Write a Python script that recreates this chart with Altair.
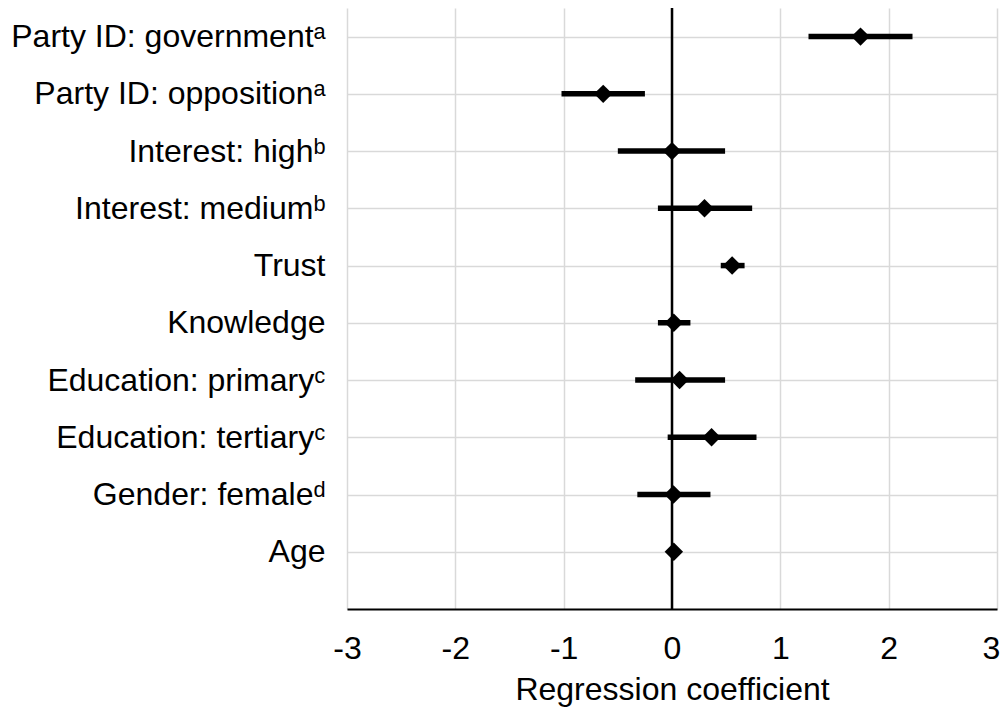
import json
import altair as alt
import pandas as pd

labels = [
    "Party ID: governmentᵃ",
    "Party ID: oppositionᵃ",
    "Interest: highᵇ",
    "Interest: mediumᵇ",
    "Trust",
    "Knowledge",
    "Education: primaryᶜ",
    "Education: tertiaryᶜ",
    "Gender: femaleᵈ",
    "Age",
]
coef = [1.74, -0.635, 0.0, 0.30, 0.555, 0.017, 0.07, 0.365, 0.014, 0.017]
lower = [1.26, -1.02, -0.50, -0.13, 0.45, -0.13, -0.34, -0.04, -0.32, 0.005]
upper = [2.22, -0.25, 0.49, 0.74, 0.67, 0.17, 0.49, 0.78, 0.355, 0.03]
x_ticks = [-3, -2, -1, 0, 1, 2, 3]

n = len(labels)
pos = [n - i for i in range(n)]
df = pd.DataFrame({"label": labels, "coef": coef, "lower": lower,
                   "upper": upper, "pos": pos})

label_arr = [""] + list(reversed(labels))
label_expr = json.dumps(label_arr, ensure_ascii=False) + "[datum.value]"

FONT = "Liberation Sans"
FS = 32

xscale = alt.Scale(domain=[-3, 3], nice=False, zero=False)
yscale = alt.Scale(domain=[0, 10.5], nice=False, zero=False)

xaxis = alt.Axis(values=x_ticks, grid=True, gridColor="#d9d9d9",
                 gridWidth=1.5, domain=True, domainColor="#000000", domainWidth=2,
                 ticks=False, labelFontSize=FS, labelFont=FONT, labelColor="#000000",
                 labelPadding=24, labelFlush=False, labelOverlap=False,
                 labelOffset=alt.expr(f"datum.value == {x_ticks[-1]} ? -6 : 0"),
                 labelExpr="'' + datum.value",
                 title="Regression coefficient", titleFontSize=FS,
                 titleFont=FONT, titleFontWeight="normal", titleColor="#000000",
                 titlePadding=10)
yaxis = alt.Axis(values=list(range(1, n + 1)), grid=True, gridColor="#d9d9d9",
                 gridWidth=1.5, domain=False, ticks=False, labelFontSize=FS,
                 labelFont=FONT, labelColor="#000000", labelPadding=22,
                 labelLimit=0, labelExpr=label_expr, title=None)

base = alt.Chart(df)

ci = base.mark_rule(color="#000000", strokeWidth=5.5).encode(
    x=alt.X("lower:Q", scale=xscale, axis=xaxis),
    x2="upper:Q",
    y=alt.Y("pos:Q", scale=yscale, axis=yaxis),
)

pts = base.mark_point(shape="diamond", filled=True, color="#000000", size=340,
                      opacity=1).encode(
    x=alt.X("coef:Q", scale=xscale),
    y=alt.Y("pos:Q", scale=yscale),
)

zero = alt.Chart(pd.DataFrame({"z": [0]})).mark_rule(
    color="#000000", strokeWidth=2.5).encode(x=alt.X("z:Q", scale=xscale))

chart = alt.layer(zero, ci, pts).properties(
    width=650, height=601,
    autosize=alt.AutoSizeParams(type="none"),
    padding={"left": 339, "top": 0, "right": 3, "bottom": 101},
).configure_view(stroke=None)

chart.save("out.html", embed_options={"renderer": "svg", "actions": False})
